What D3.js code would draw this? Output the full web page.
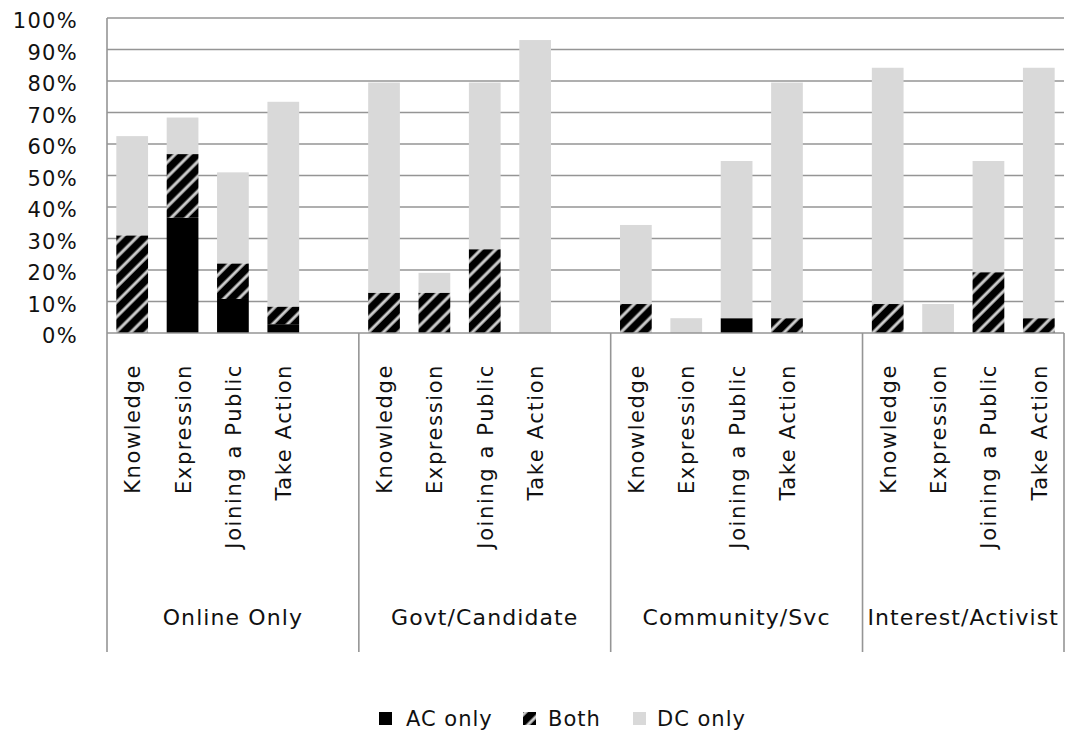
<!DOCTYPE html>
<html>
<head>
<meta charset="utf-8">
<script src="https://cdn.jsdelivr.net/npm/d3@7"></script>
<style>
  body { margin: 0; background: #fff; }
  text { font-family: "DejaVu Sans", sans-serif; fill: #111; }
</style>
</head>
<body>
<svg id="chart" width="1067" height="735"></svg>
<script>
// data (percent)
const groups = ["Online Only", "Govt/Candidate", "Community/Svc", "Interest/Activist"];
const activities = ["Knowledge", "Expression", "Joining a Public", "Take Action"];
const acOnly = [0, 36.6, 10.8, 2.8,   0, 0, 0, 0,   0, 0, 4.7, 0,   0, 0, 0, 0];
const both   = [31, 20.2, 11.3, 5.6,  12.8, 12.8, 26.6, 0,  9.2, 0, 0, 4.7,  9.2, 0, 19.3, 4.7];
const dcOnly = [31.5, 11.6, 28.9, 65, 66.7, 6.3, 52.9, 93,  25.1, 4.7, 49.9, 74.8,  75, 9.2, 35.3, 79.5];
const yTicks = [0, 10, 20, 30, 40, 50, 60, 70, 80, 90, 100];
const seriesNames = ["AC only", "Both", "DC only"];

const svg = d3.select("#chart");
const plot = { left: 107, right: 1064, top: 18, bottom: 333, catBottom: 652 };

// one slot per bar, plus an empty slot after each group but the last
const slots = [];
const rows = [];
groups.forEach((g, gi) => {
    activities.forEach((a, ai) => {
        const i = gi * activities.length + ai;
        const key = g + "|" + a;
        slots.push(key);
        rows.push({ key, group: g, activity: a, ac: acOnly[i], both: both[i], dc: dcOnly[i] });
    });
    if (gi < groups.length - 1) slots.push(g + "|gap");
});

const x = d3.scaleBand().domain(slots).range([plot.left, plot.right]).padding(0);
const y = d3.scaleLinear().domain([0, 100]).range([plot.bottom, plot.top]);
const barW = x.bandwidth() * 0.63;

// hatch for "Both"
const defs = svg.append("defs");
const pat = defs.append("pattern")
    .attr("id", "hatch")
    .attr("patternUnits", "userSpaceOnUse")
    .attr("width", 10.5)
    .attr("height", 10.5)
    .attr("patternTransform", "rotate(45)");
pat.append("rect").attr("width", 10.5).attr("height", 10.5).attr("fill", "#000");
pat.append("line")
    .attr("x1", 2).attr("y1", 0).attr("x2", 2).attr("y2", 10.5)
    .attr("stroke", "#cdcdcd").attr("stroke-width", 3);

const fills = { ac: "#000", both: "url(#hatch)", dc: "#d9d9d9" };

// gridlines
svg.append("g").selectAll("line")
    .data(yTicks.filter(t => t > 0))
    .join("line")
    .attr("x1", plot.left).attr("x2", plot.right)
    .attr("y1", d => y(d)).attr("y2", d => y(d))
    .attr("stroke", "#959595").attr("stroke-width", 1.6);

// y axis labels
svg.append("g").selectAll("text")
    .data(yTicks)
    .join("text")
    .attr("x", 78)
    .attr("y", d => y(d) + 10)
    .attr("text-anchor", "end")
    .attr("font-size", 21)
    .attr("letter-spacing", 1.3)
    .text(d => d + "%");

// stacked bars
const stack = d3.stack().keys(["ac", "both", "dc"]);
const layers = stack(rows);
svg.append("g").selectAll("g")
    .data(layers)
    .join("g")
    .attr("fill", d => fills[d.key])
    .selectAll("rect")
    .data(d => d.filter(s => s[1] - s[0] > 0))
    .join("rect")
    .attr("x", d => x(d.data.key) + (x.bandwidth() - barW) / 2)
    .attr("width", barW)
    .attr("y", d => y(d[1]))
    .attr("height", d => y(d[0]) - y(d[1]));

// axes lines
const axisG = svg.append("g").attr("stroke", "#959595").attr("stroke-width", 1.6);
axisG.append("line")
    .attr("x1", plot.left).attr("x2", plot.left)
    .attr("y1", plot.top).attr("y2", plot.catBottom);
axisG.append("line")
    .attr("x1", plot.left).attr("x2", plot.right)
    .attr("y1", plot.bottom).attr("y2", plot.bottom);
const bounds = groups.slice(1).map(g => x(g + "|" + activities[0])).concat([plot.right]);
axisG.selectAll("line.sep")
    .data(bounds)
    .join("line")
    .attr("class", "sep")
    .attr("x1", d => d).attr("x2", d => d)
    .attr("y1", plot.bottom).attr("y2", plot.catBottom);

// category labels (rotated)
svg.append("g").selectAll("text")
    .data(rows)
    .join("text")
    .attr("transform", d => `translate(${x(d.key) + x.bandwidth() / 2},364) rotate(-90)`)
    .attr("dy", "0.38em")
    .attr("text-anchor", "end")
    .attr("font-size", 21)
    .attr("letter-spacing", 1.6)
    .text(d => d.activity);

// group labels
svg.append("g").selectAll("text")
    .data(groups)
    .join("text")
    .attr("x", (g, i) => {
        const start = x(g + "|" + activities[0]);
        const end = i < groups.length - 1 ? x(groups[i + 1] + "|" + activities[0]) : plot.right;
        return (start + end) / 2;
    })
    .attr("y", 625)
    .attr("text-anchor", "middle")
    .attr("font-size", 22)
    .attr("letter-spacing", 1.1)
    .text(d => d);

// legend
const legendPos = [379, 523, 633];
const legend = svg.append("g").selectAll("g")
    .data(seriesNames)
    .join("g")
    .attr("transform", (d, i) => `translate(${legendPos[i]},712)`);
legend.append("rect")
    .attr("width", 13).attr("height", 13)
    .attr("fill", (d, i) => [fills.ac, fills.both, fills.dc][i]);
legend.append("text")
    .attr("x", (d, i) => [27, 25, 24][i])
    .attr("y", 14)
    .attr("font-size", 21)
    .attr("letter-spacing", 1)
    .text(d => d);
</script>
</body>
</html>
